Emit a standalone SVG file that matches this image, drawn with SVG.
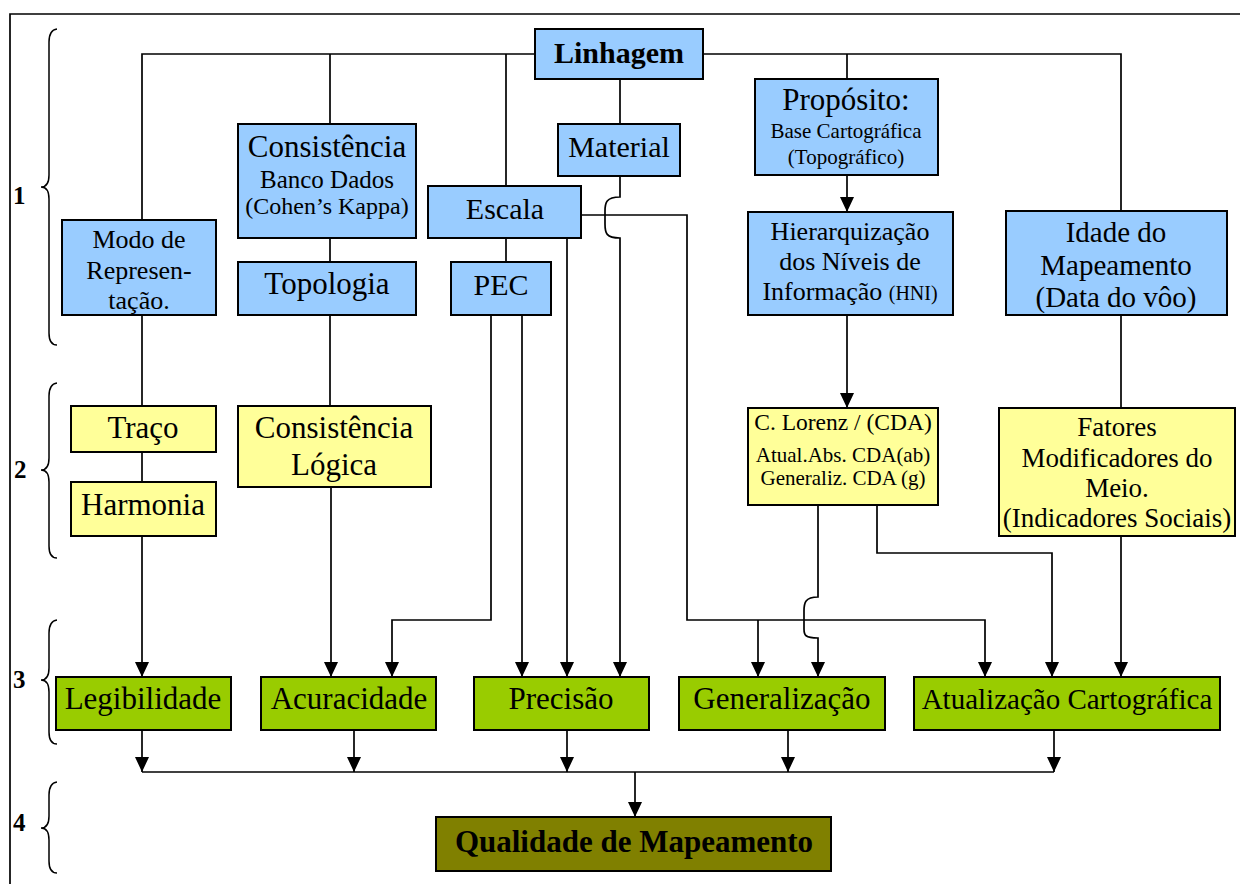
<svg xmlns="http://www.w3.org/2000/svg" width="1240" height="884" viewBox="0 0 1240 884">
<style>
text{font-family:"Liberation Serif","Times New Roman",serif;fill:#000;text-anchor:middle}
.b rect{fill:#99CCFF;stroke:#000;stroke-width:2}
.y rect{fill:#FFFF99;stroke:#000;stroke-width:2}
.g rect{fill:#99CC00;stroke:#000;stroke-width:2}
.q rect{fill:#808000;stroke:#000;stroke-width:2}
.c path{fill:none;stroke:#000;stroke-width:1.7}
.br path{fill:none;stroke:#000;stroke-width:1.5}
.lbl{font-weight:bold;font-size:25px;text-anchor:start}
</style>
<defs>
<marker id="ah" viewBox="0 0 15 14" markerWidth="15" markerHeight="14" refX="15" refY="7" orient="auto" markerUnits="userSpaceOnUse">
<path d="M0,0 L15,7 L0,14 z" fill="#000"/>
</marker>
</defs>
<rect width="1240" height="884" fill="#fff"/>
<path d="M10,884 V14 H1240" fill="none" stroke="#000" stroke-width="1.7"/>
<g class="br" id="braces">
<path d="M57,29 Q49,30 49,42 V175 Q49,187 41,187 Q49,187 49,199 V333 Q49,345 57,345"/>
<path d="M57,383 Q49,384 49,396 V458 Q49,470 41,470 Q49,470 49,482 V546 Q49,558 57,558"/>
<path d="M57,620 Q49,621 49,633 V668 Q49,680 41,680 Q49,680 49,692 V732 Q49,744 57,744"/>
<path d="M57,782 Q49,783 49,795 V816 Q49,828 41,828 Q49,828 49,840 V861 Q49,873 57,873"/>
<text class="lbl" x="13" y="204">1</text>
<text class="lbl" x="14" y="478">2</text>
<text class="lbl" x="13" y="688">3</text>
<text class="lbl" x="13" y="831">4</text>
</g>
<g class="c" id="connectors">
<path d="M142,220 V54 H535"/>
<path d="M703,54 H1121 V211"/>
<path d="M330,54 V124"/>
<path d="M506,54 V186"/>
<path d="M506,238 V262"/>
<path d="M620,79 V124"/>
<path d="M847,54 V79"/>
<path d="M847,175 V212" marker-end="url(#ah)"/>
<path d="M847,315 V408" marker-end="url(#ah)"/>
<path d="M1121,315 V408"/>
<path d="M330,238 V262"/>
<path d="M330,315 V406"/>
<path d="M331,487 V677" marker-end="url(#ah)"/>
<path d="M142,315 V406"/>
<path d="M142,452 V482"/>
<path d="M142,536 V677" marker-end="url(#ah)"/>
<path d="M491,315 V620 H392 V677" marker-end="url(#ah)"/>
<path d="M522,315 V677" marker-end="url(#ah)"/>
<path d="M567,238 V677" marker-end="url(#ah)"/>
<path d="M620,176 V197 C606,197 605,203 605,211 V224 C605,233 606,238 620,238 V677" marker-end="url(#ah)"/>
<path d="M581,215 H687 V620 H985 V677" marker-end="url(#ah)"/>
<path d="M758,620 V677" marker-end="url(#ah)"/>
<path d="M818,505 V597 C805,597 804,603 804,611 V629 C804,635 805,638 818,638 V677" marker-end="url(#ah)"/>
<path d="M877,505 V553 H1052 V677" marker-end="url(#ah)"/>
<path d="M1121,536 V677" marker-end="url(#ah)"/>
<path d="M142,730 V772" marker-end="url(#ah)"/>
<path d="M354,730 V772" marker-end="url(#ah)"/>
<path d="M567,730 V772" marker-end="url(#ah)"/>
<path d="M788,730 V772" marker-end="url(#ah)"/>
<path d="M1054,730 V772" marker-end="url(#ah)"/>
<path d="M142,772 H1054"/>
<path d="M635,772 V817" marker-end="url(#ah)"/>
</g>
<g id="linhagem" class="b"><rect x="535" y="29" width="168" height="50"/><text x="619" y="63" font-size="30" font-weight="bold">Linhagem</text></g>
<g id="material" class="b"><rect x="558" y="124" width="122" height="52"/><text x="619" y="157" font-size="30">Material</text></g>
<g id="escala" class="b"><rect x="428" y="186" width="153" height="52"/><text x="505" y="219" font-size="30">Escala</text></g>
<g id="pec" class="b"><rect x="451" y="262" width="100" height="53"/><text x="501" y="295" font-size="30">PEC</text></g>
<g id="consistencia-bd" class="b"><rect x="238" y="124" width="178" height="114"/><text x="327" y="157" font-size="31">Consistência</text><text x="327" y="188" font-size="25">Banco Dados</text><text x="327" y="214" font-size="24">(Cohen’s Kappa)</text></g>
<g id="topologia" class="b"><rect x="238" y="262" width="178" height="53"/><text x="327" y="294" font-size="31">Topologia</text></g>
<g id="modo" class="b"><rect x="62" y="220" width="154" height="95"/><text x="139" y="248" font-size="26">Modo de</text><text x="139" y="279" font-size="26">Represen-</text><text x="139" y="309" font-size="26">tação.</text></g>
<g id="proposito" class="b"><rect x="755" y="79" width="183" height="96"/><text x="846" y="110" font-size="31">Propósito:</text><text x="846" y="138" font-size="21">Base Cartográfica</text><text x="846" y="164" font-size="21">(Topográfico)</text></g>
<g id="hni" class="b"><rect x="748" y="212" width="205" height="103"/><text x="850" y="240" font-size="26">Hierarquização</text><text x="850" y="270" font-size="26">dos Níveis de</text><text x="850" y="300" font-size="26">Informação <tspan font-size="20">(HNI)</tspan></text></g>
<g id="idade" class="b"><rect x="1006" y="211" width="221" height="104"/><text x="1116" y="242" font-size="29">Idade do</text><text x="1116" y="275" font-size="29">Mapeamento</text><text x="1116" y="307" font-size="29">(Data do vôo)</text></g>
<g id="traco" class="y"><rect x="71" y="406" width="145" height="46"/><text x="143" y="438" font-size="31">Traço</text></g>
<g id="harmonia" class="y"><rect x="71" y="482" width="145" height="54"/><text x="143" y="515" font-size="31">Harmonia</text></g>
<g id="consistencia-logica" class="y"><rect x="238" y="406" width="193" height="81"/><text x="334" y="438" font-size="31">Consistência</text><text x="334" y="475" font-size="31">Lógica</text></g>
<g id="lorenz" class="y"><rect x="748" y="408" width="190" height="97"/><text x="843" y="430" font-size="23.5">C. Lorenz / (CDA)</text><text x="843" y="462" font-size="21">Atual.Abs. CDA(ab)</text><text x="843" y="485" font-size="21">Generaliz. CDA (g)</text></g>
<g id="fatores" class="y"><rect x="999" y="408" width="236" height="128"/><text x="1117" y="436" font-size="27">Fatores</text><text x="1117" y="467" font-size="27">Modificadores do</text><text x="1117" y="497" font-size="27">Meio.</text><text x="1117" y="527" font-size="27">(Indicadores Sociais)</text></g>
<g id="legibilidade" class="g"><rect x="56" y="677" width="175" height="53"/><text x="143" y="709" font-size="31">Legibilidade</text></g>
<g id="acuracidade" class="g"><rect x="261" y="677" width="175" height="53"/><text x="349" y="709" font-size="31">Acuracidade</text></g>
<g id="precisao" class="g"><rect x="474" y="677" width="175" height="53"/><text x="561" y="709" font-size="31">Precisão</text></g>
<g id="generalizacao" class="g"><rect x="679" y="677" width="206" height="53"/><text x="782" y="709" font-size="31">Generalização</text></g>
<g id="atualizacao" class="g"><rect x="914" y="677" width="306" height="53"/><text x="1067" y="709" font-size="29">Atualização Cartográfica</text></g>
<g id="qualidade" class="q"><rect x="436" y="817" width="395" height="54"/><text x="634" y="852" font-size="31" font-weight="bold">Qualidade de Mapeamento</text></g>
</svg>
